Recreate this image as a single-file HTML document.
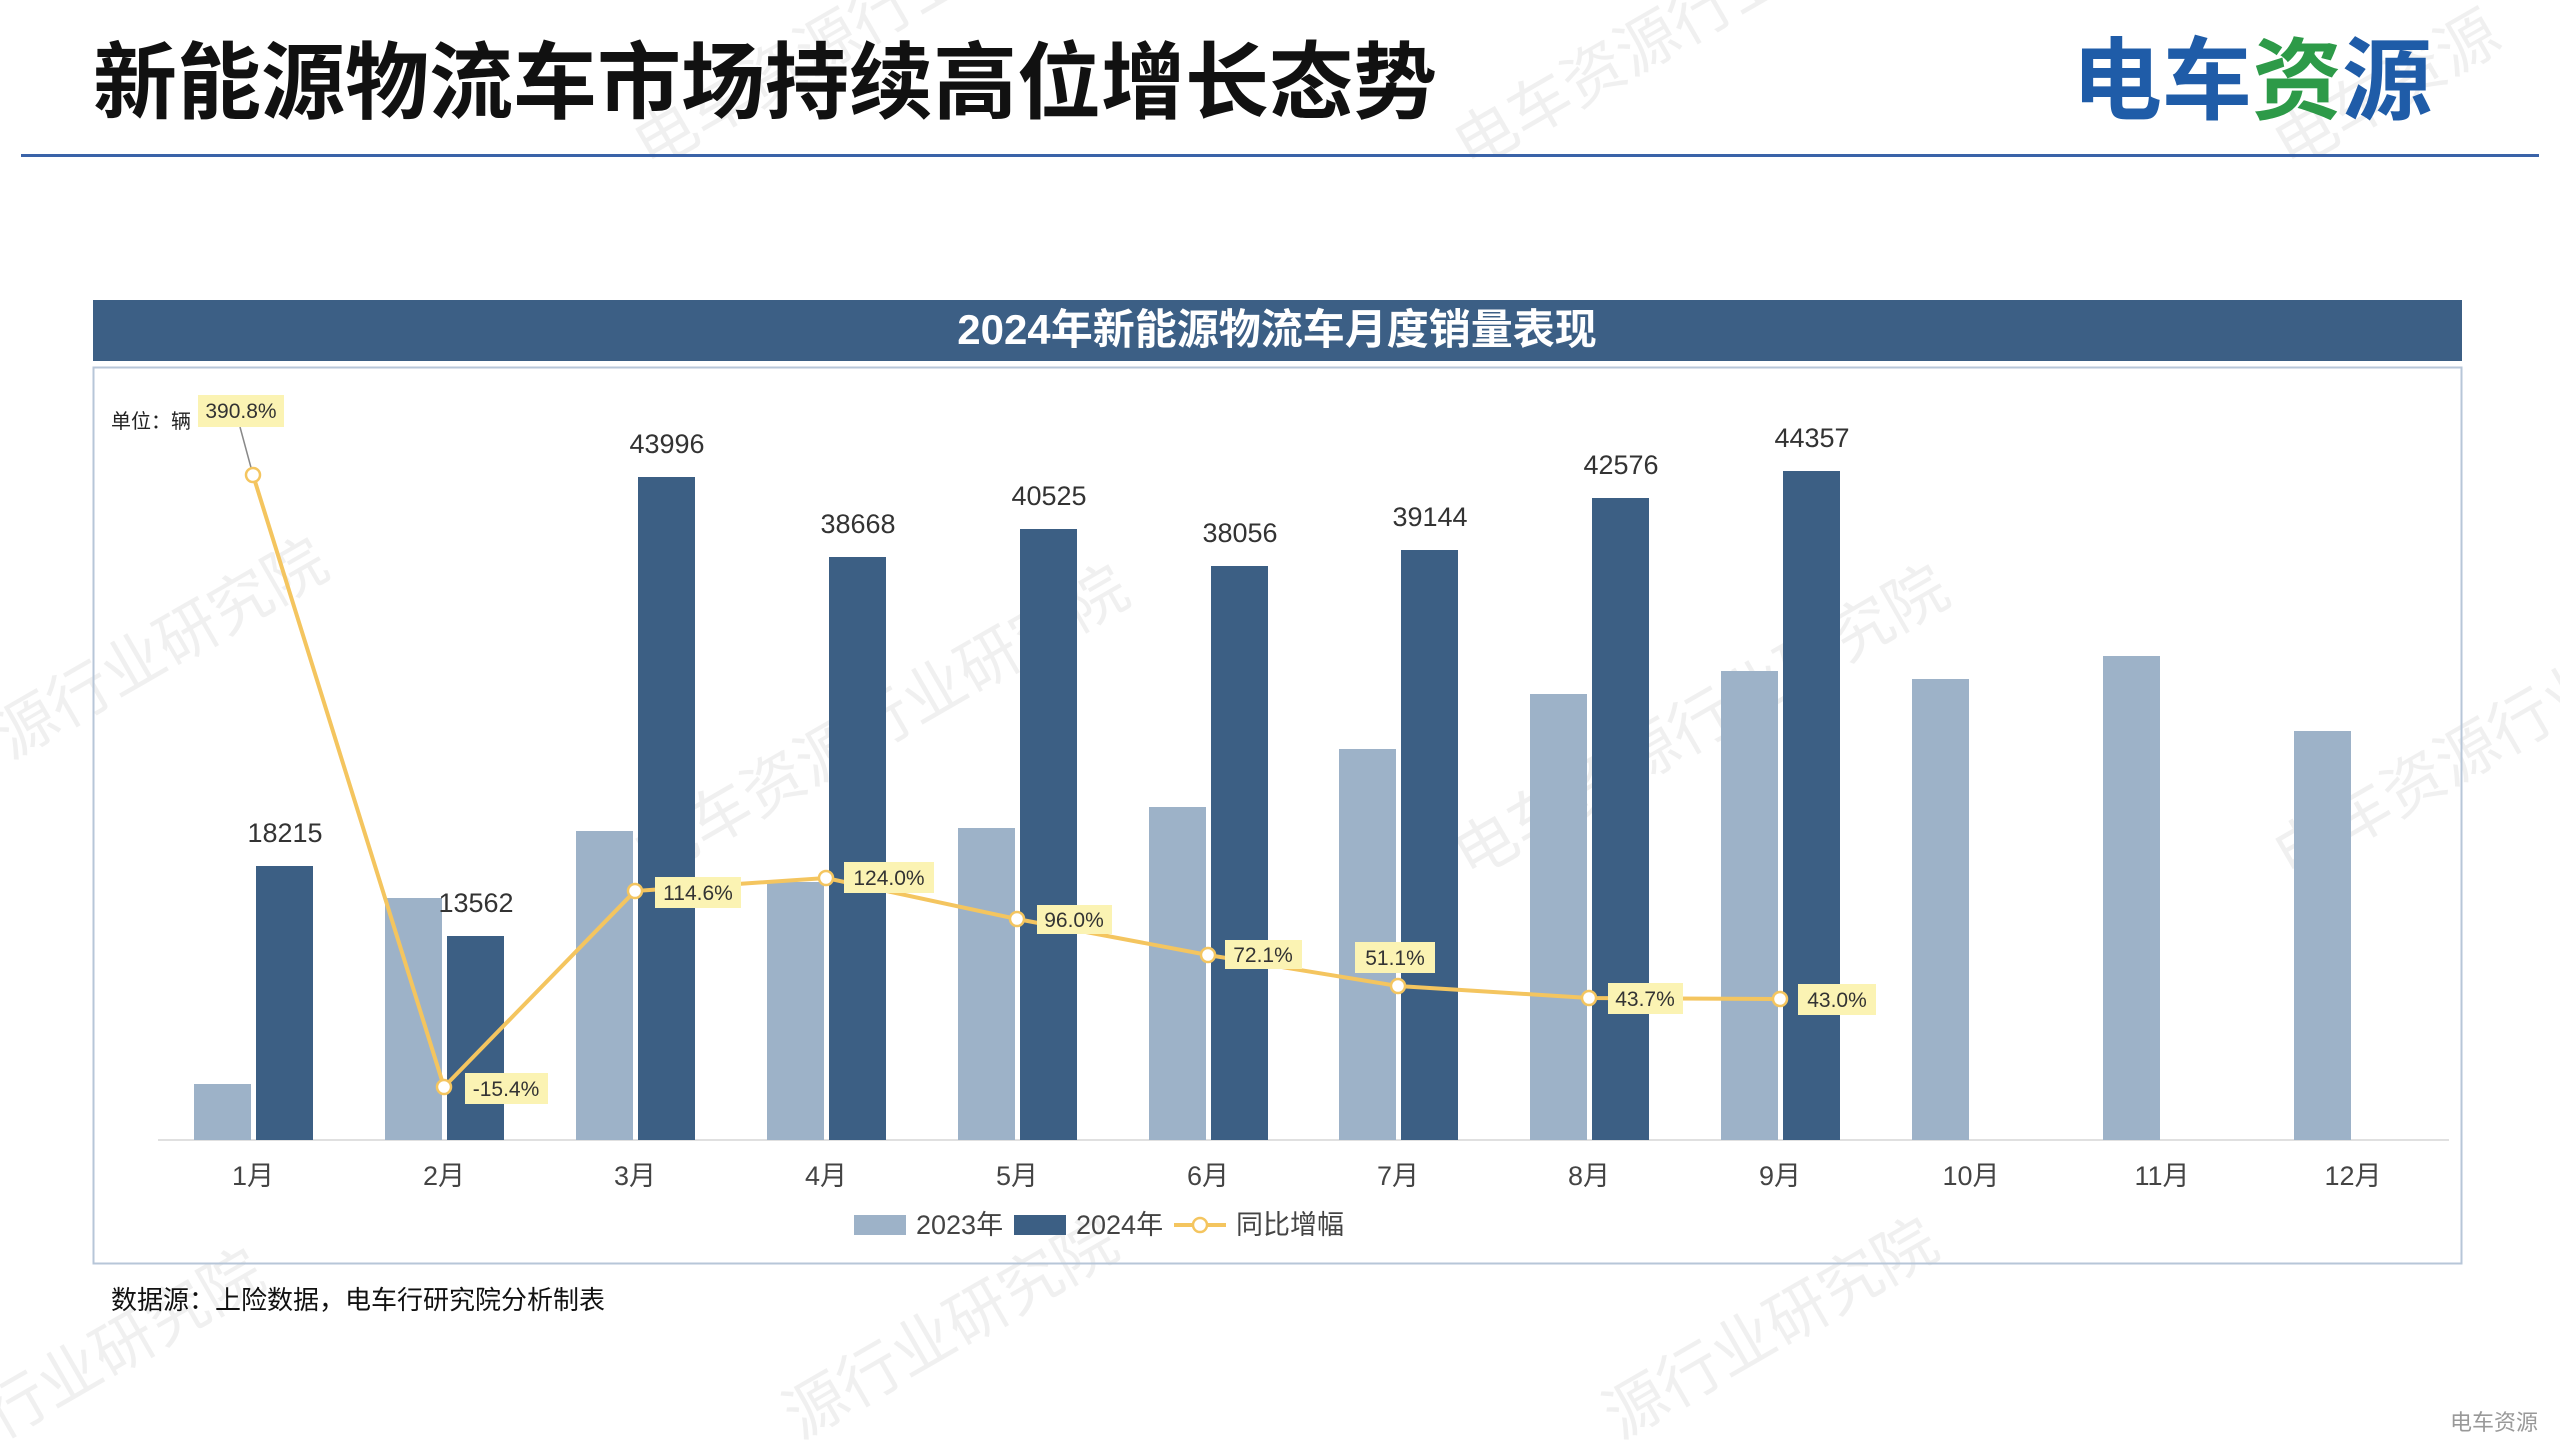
<!DOCTYPE html>
<html><head><meta charset="utf-8"><style>
html,body{margin:0;padding:0;background:#fff;}
body{width:2560px;height:1440px;overflow:hidden;position:relative;font-family:"Liberation Sans","Noto Sans CJK SC",sans-serif;}
</style></head><body>
<svg width="2560" height="1440" viewBox="0 0 2560 1440" xmlns="http://www.w3.org/2000/svg" style="position:absolute;left:0;top:0;font-family:'Liberation Sans','Noto Sans CJK SC',sans-serif;">
<!-- watermarks -->
<g fill="#000" fill-opacity="0.06" font-size="62">
<text transform="translate(10,760) rotate(-30)">源行业研究院</text>
<text transform="translate(650,880) rotate(-30)">电车资源行业研究院</text>
<text transform="translate(1470,880) rotate(-30)">电车资源行业研究院</text>
<text transform="translate(2290,880) rotate(-30)">电车资源行业</text>
<text transform="translate(1470,170) rotate(-30)">电车资源行业</text>
<text transform="translate(650,170) rotate(-30)">电车资源行业</text>
<text transform="translate(2290,170) rotate(-30)">电车资源</text>
<text transform="translate(0,1440) rotate(-30)">行业研究院</text>
<text transform="translate(800,1440) rotate(-30)">源行业研究院</text>
<text transform="translate(1620,1440) rotate(-30)">源行业研究院</text>
</g>
<text x="93" y="112" font-size="84" font-weight="bold" fill="#111">新能源物流车市场持续高位增长态势</text>
<text x="2072" y="112" font-size="90" font-weight="bold" fill="#1f5ca8">电车<tspan fill="#2d9a48">资</tspan>源</text>
<rect x="21" y="154" width="2518" height="3" fill="#3a63a8"/>
<!-- header -->
<rect x="93" y="300" width="2369" height="61" fill="#3c5f85"/>
<text x="1277" y="344" font-size="42" font-weight="bold" fill="#fff" text-anchor="middle">2024年新能源物流车月度销量表现</text>
<rect x="93.5" y="367.5" width="2368" height="896" fill="none" stroke="#b7c6d8" stroke-width="2"/>
<text x="111" y="428" font-size="20" fill="#222">单位：辆</text>
<line x1="158" y1="1140" x2="2449" y2="1140" stroke="#e0e0e0" stroke-width="2"/>
<!-- 2023 bars -->
<g fill="#9db2c8">
<rect x="194" y="1084" width="57" height="56"/>
<rect x="385" y="898" width="57" height="242"/>
<rect x="576" y="831" width="57" height="309"/>
<rect x="767" y="882" width="57" height="258"/>
<rect x="958" y="828" width="57" height="312"/>
<rect x="1149" y="807" width="57" height="333"/>
<rect x="1339" y="749" width="57" height="391"/>
<rect x="1530" y="694" width="57" height="446"/>
<rect x="1721" y="671" width="57" height="469"/>
<rect x="1912" y="679" width="57" height="461"/>
<rect x="2103" y="656" width="57" height="484"/>
<rect x="2294" y="731" width="57" height="409"/>
</g>
<g fill="#3c5f84">
<rect x="256" y="866" width="57" height="274"/>
<rect x="447" y="936" width="57" height="204"/>
<rect x="638" y="477" width="57" height="663"/>
<rect x="829" y="557" width="57" height="583"/>
<rect x="1020" y="529" width="57" height="611"/>
<rect x="1211" y="566" width="57" height="574"/>
<rect x="1401" y="550" width="57" height="590"/>
<rect x="1592" y="498" width="57" height="642"/>
<rect x="1783" y="471" width="57" height="669"/>
</g>
<g font-size="27" fill="#333" text-anchor="middle">
<text x="285" y="842">18215</text>
<text x="476" y="912">13562</text>
<text x="667" y="453">43996</text>
<text x="858" y="533">38668</text>
<text x="1049" y="505">40525</text>
<text x="1240" y="542">38056</text>
<text x="1430" y="526">39144</text>
<text x="1621" y="474">42576</text>
<text x="1812" y="447">44357</text>
</g>
<g font-size="27" fill="#444" text-anchor="middle">
<text x="253" y="1185">1月</text><text x="444" y="1185">2月</text><text x="635" y="1185">3月</text><text x="826" y="1185">4月</text><text x="1017" y="1185">5月</text><text x="1208" y="1185">6月</text><text x="1398" y="1185">7月</text><text x="1589" y="1185">8月</text><text x="1780" y="1185">9月</text><text x="1971" y="1185">10月</text><text x="2162" y="1185">11月</text><text x="2353" y="1185">12月</text>
</g>
<!-- line -->
<line x1="253" y1="475" x2="240" y2="427" stroke="#888" stroke-width="1.5"/>
<polyline fill="none" stroke="#f4c55f" stroke-width="4" points="253,475 444,1087 635,891 826,878 1017,919 1208,955 1398,986 1589,998 1780,999"/>
<g fill="#fff" stroke="#f4c55f" stroke-width="2.5">
<circle cx="253" cy="475" r="7"/><circle cx="444" cy="1087" r="7"/><circle cx="635" cy="891" r="7"/><circle cx="826" cy="878" r="7"/><circle cx="1017" cy="919" r="7"/><circle cx="1208" cy="955" r="7"/><circle cx="1398" cy="986" r="7"/><circle cx="1589" cy="998" r="7"/><circle cx="1780" cy="999" r="7"/>
</g>
<g fill="#fbf3b3">
<rect x="198" y="395" width="86" height="32"/>
<rect x="465" y="1073" width="83" height="31"/>
<rect x="655" y="877" width="86" height="31"/>
<rect x="844" y="862" width="90" height="31"/>
<rect x="1037" y="905" width="75" height="29"/>
<rect x="1225" y="940" width="77" height="29"/>
<rect x="1355" y="942" width="80" height="31"/>
<rect x="1608" y="983" width="75" height="31"/>
<rect x="1798" y="984" width="78" height="31"/>
</g>
<g font-size="21" fill="#333" text-anchor="middle">
<text x="241" y="418">390.8%</text>
<text x="506" y="1096">-15.4%</text>
<text x="698" y="900">114.6%</text>
<text x="889" y="885">124.0%</text>
<text x="1074" y="927">96.0%</text>
<text x="1263" y="962">72.1%</text>
<text x="1395" y="965">51.1%</text>
<text x="1645" y="1006">43.7%</text>
<text x="1837" y="1007">43.0%</text>
</g>
<!-- legend -->
<rect x="854" y="1215" width="52" height="20" fill="#9db2c8"/>
<text x="916" y="1234" font-size="27" fill="#444">2023年</text>
<rect x="1014" y="1215" width="52" height="20" fill="#3c5f84"/>
<text x="1076" y="1234" font-size="27" fill="#444">2024年</text>
<line x1="1174" y1="1225" x2="1226" y2="1225" stroke="#f4c55f" stroke-width="4"/>
<circle cx="1200" cy="1225" r="7" fill="#fff" stroke="#f4c55f" stroke-width="2.5"/>
<text x="1236" y="1234" font-size="27" fill="#444">同比增幅</text>
<text x="111" y="1309" font-size="26" fill="#111">数据源：上险数据，电车行研究院分析制表</text>
<text x="2450" y="1430" font-size="22" fill="#999">电车资源</text>
</svg>
</body></html>
